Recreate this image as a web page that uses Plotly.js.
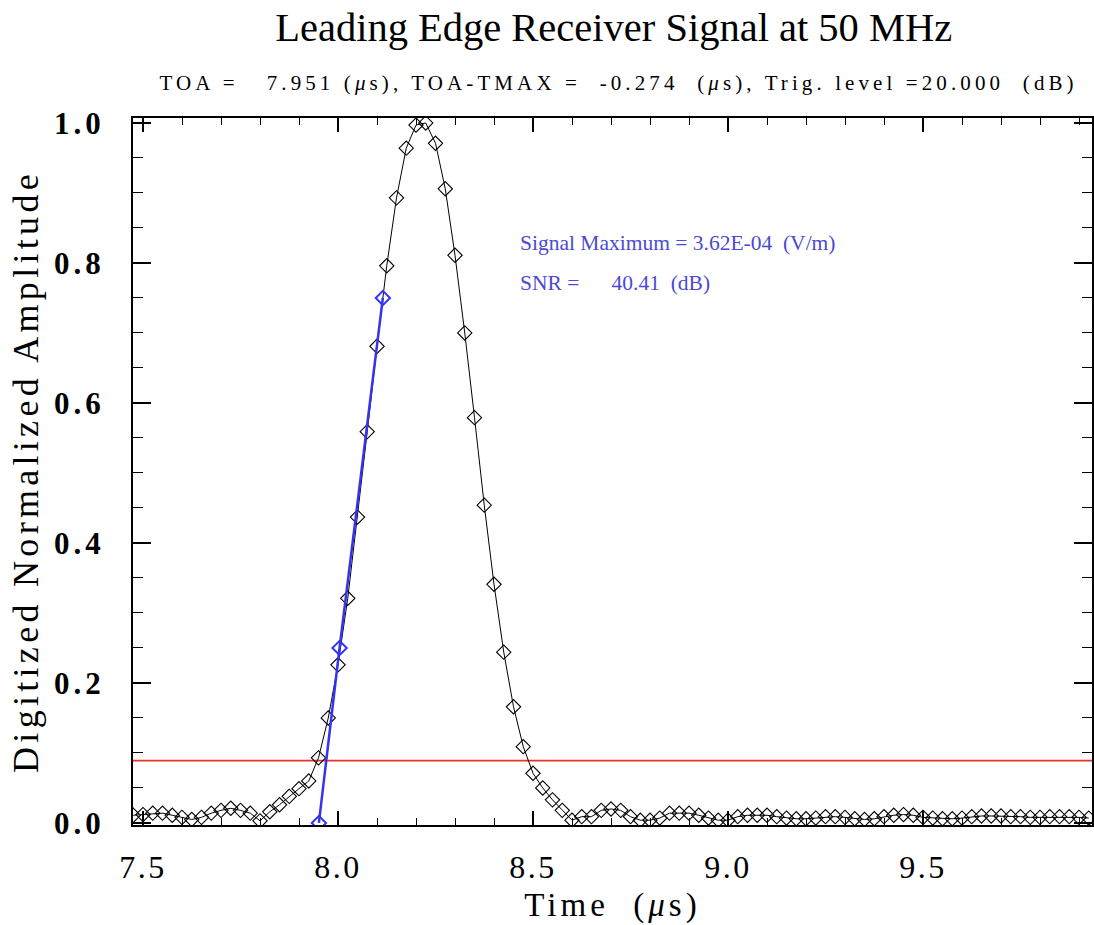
<!DOCTYPE html>
<html>
<head>
<meta charset="utf-8">
<script src="https://cdn.plot.ly/plotly-3.0.1.min.js"></script>
<style>
html,body{margin:0;padding:0;background:#fff;}
#chart{width:1094px;height:925px;}
#chart .xtick text{letter-spacing:2.5px;}
#chart .ytick text{letter-spacing:4px;}
#chart .g-xtitle text{letter-spacing:4px;}
#chart .g-ytitle text{letter-spacing:4.3px;}
#chart .annotation[data-index="0"] text{letter-spacing:4.1px;}
</style>
</head>
<body>
<div id="chart"></div>
<script>
// ---- data ----
var sampleTime = [
  7.475, 7.500, 7.525, 7.550, 7.575, 7.600, 7.625, 7.650, 7.675, 7.700,
  7.725, 7.750, 7.775, 7.800, 7.825, 7.850, 7.875, 7.900, 7.925, 7.950,
  7.975, 8.000, 8.025, 8.050, 8.075, 8.100, 8.125, 8.150, 8.175, 8.200,
  8.225, 8.250, 8.275, 8.300, 8.325, 8.350, 8.375, 8.400, 8.425, 8.450,
  8.475, 8.500, 8.525, 8.550, 8.575, 8.600, 8.625, 8.650, 8.675, 8.700,
  8.725, 8.750, 8.775, 8.800, 8.825, 8.850, 8.875, 8.900, 8.925, 8.950,
  8.975, 9.000, 9.025, 9.050, 9.075, 9.100, 9.125, 9.150, 9.175, 9.200,
  9.225, 9.250, 9.275, 9.300, 9.325, 9.350, 9.375, 9.400, 9.425, 9.450,
  9.475, 9.500, 9.525, 9.550, 9.575, 9.600, 9.625, 9.650, 9.675, 9.700,
  9.725, 9.750, 9.775, 9.800, 9.825, 9.850, 9.875, 9.900, 9.925
];
var sampleAmp = [
  0.011, 0.012, 0.014, 0.014, 0.011, 0.008, 0.005, 0.008, 0.014, 0.018,
  0.021, 0.018, 0.014, 0.003, 0.016, 0.026, 0.038, 0.049, 0.060, 0.093,
  0.150, 0.226, 0.321, 0.437, 0.559, 0.681, 0.796, 0.893, 0.964, 0.997,
  1.000, 0.971, 0.906, 0.811, 0.700, 0.579, 0.454, 0.341, 0.244, 0.166,
  0.109, 0.071, 0.050, 0.033, 0.018, 0.004, 0.009, 0.009, 0.018, 0.020,
  0.018, 0.009, 0.004, 0.004, 0.007, 0.014, 0.014, 0.014, 0.011, 0.007,
  0.004, 0.004, 0.009, 0.011, 0.011, 0.011, 0.009, 0.007, 0.006, 0.006,
  0.007, 0.009, 0.009, 0.008, 0.006, 0.005, 0.006, 0.009, 0.011, 0.012,
  0.011, 0.008, 0.007, 0.006, 0.006, 0.007, 0.009, 0.010, 0.010, 0.010,
  0.009, 0.009, 0.008, 0.008, 0.009, 0.009, 0.009, 0.008, 0.007
];
// leading-edge fit (TOA, 25% and 75% points)
var edgeTime = [7.951, 8.004, 8.115];
var edgeAmp  = [0.000, 0.250, 0.750];
var trigLevel = [0.089];
var xTickVals = [7.5, 8.0, 8.5, 9.0, 9.5];
var xTickText = ['7.5', '8.0', '8.5', '9.0', '9.5'];
var yTickVals = [0.0, 0.2, 0.4, 0.6, 0.8, 1.0];
var yTickText = ['0.0', '0.2', '0.4', '0.6', '0.8', '1.0'];

var NB = '\u00A0';
function sp(n){ return new Array(n+1).join(NB); }
var SERIF = 'Liberation Serif, Times New Roman, serif';

var traces = [
  {
    x: sampleTime, y: sampleAmp, type: 'scatter', mode: 'lines+markers',
    line: {color: '#000000', width: 1},
    marker: {symbol: 'diamond-open', size: 11, color: '#000000', line: {width: 1.1, color: '#000000'}},
    showlegend: false, hoverinfo: 'x+y'
  },
  {
    x: edgeTime, y: edgeAmp, type: 'scatter', mode: 'lines+markers',
    line: {color: '#3434ee', width: 2.5},
    marker: {symbol: 'diamond-open', size: 11, color: '#3434ee', line: {width: 2, color: '#3434ee'}},
    showlegend: false, hoverinfo: 'x+y'
  }
];

var blueText = '#4a4ad6';
var layout = {
  width: 1094, height: 925,
  margin: {l: 133, r: 2, t: 118, b: 100, pad: 0},
  paper_bgcolor: '#ffffff', plot_bgcolor: '#ffffff',
  showlegend: false,
  title: {
    text: 'Leading Edge Receiver Signal at 50 MHz',
    font: {family: SERIF, size: 40.5, color: '#000000'},
    x: 0.561, xanchor: 'center', xref: 'container',
    y: 0.971, yanchor: 'middle', yref: 'container'
  },
  xaxis: {
    range: [7.47436, 9.93333],
    tickmode: 'array', tickvals: xTickVals, ticktext: xTickText,
    ticks: 'inside', ticklen: 14, tickwidth: 1.3, tickcolor: '#000000',
    minor: {dtick: 0.1, tick0: 7.5, ticks: 'inside', ticklen: 7, tickwidth: 1, tickcolor: '#000000', showgrid: false},
    showgrid: false, zeroline: false,
    showline: true, linecolor: '#000000', linewidth: 2, mirror: 'ticks',
    tickfont: {family: SERIF, size: 32, color: '#000000'},
    ticklabelstandoff: 13,
    title: {text: sp(2) + 'Time' + sp(2) + '(<i>μ</i>s)', font: {family: SERIF, size: 33, color: '#000000'}, standoff: 8},
    automargin: false
  },
  yaxis: {
    range: [-0.0029, 1.0071],
    tickmode: 'array', tickvals: yTickVals, ticktext: yTickText,
    ticks: 'inside', ticklen: 18, tickwidth: 1.3, tickcolor: '#000000',
    minor: {dtick: 0.05, tick0: 0, ticks: 'inside', ticklen: 10, tickwidth: 1, tickcolor: '#000000', showgrid: false},
    showgrid: false, zeroline: false,
    showline: true, linecolor: '#000000', linewidth: 2, mirror: 'ticks',
    tickfont: {family: SERIF, size: 31, color: '#000000', weight: 'bold'},
    ticklabelstandoff: 20,
    title: {text: 'Digitized Normalized Amplitude', font: {family: SERIF, size: 36, color: '#000000'}, standoff: 16},
    automargin: false
  },
  shapes: [
    {type: 'line', xref: 'paper', x0: 0, x1: 1, yref: 'y', y0: trigLevel[0], y1: trigLevel[0],
     line: {color: '#e8332a', width: 1.8}, layer: 'below'}
  ],
  annotations: [
    {
      text: 'TOA =' + sp(3) + '7.951 (<i>μ</i>s), TOA-TMAX =' + sp(2) + '-0.274' + sp(2) + '(<i>μ</i>s), Trig. level =20.000' + sp(2) + '(dB)',
      xref: 'paper', yref: 'paper', x: 0.5063, y: 1.0495, xanchor: 'center', yanchor: 'middle',
      showarrow: false, font: {family: SERIF, size: 21, color: '#000000'}
    },
    {
      text: 'Signal Maximum = 3.62E-04' + sp(2) + '(V/m)',
      xref: 'paper', yref: 'paper', x: 0.4015, y: 0.8232, xanchor: 'left', yanchor: 'middle',
      showarrow: false, font: {family: SERIF, size: 21.5, color: blueText}
    },
    {
      text: 'SNR =' + sp(6) + '40.41' + sp(2) + '(dB)',
      xref: 'paper', yref: 'paper', x: 0.4015, y: 0.7666, xanchor: 'left', yanchor: 'middle',
      showarrow: false, font: {family: SERIF, size: 21.5, color: blueText}
    }
  ]
};

Plotly.newPlot('chart', traces, layout, {displayModeBar: false, staticPlot: true});
</script>
</body>
</html>
